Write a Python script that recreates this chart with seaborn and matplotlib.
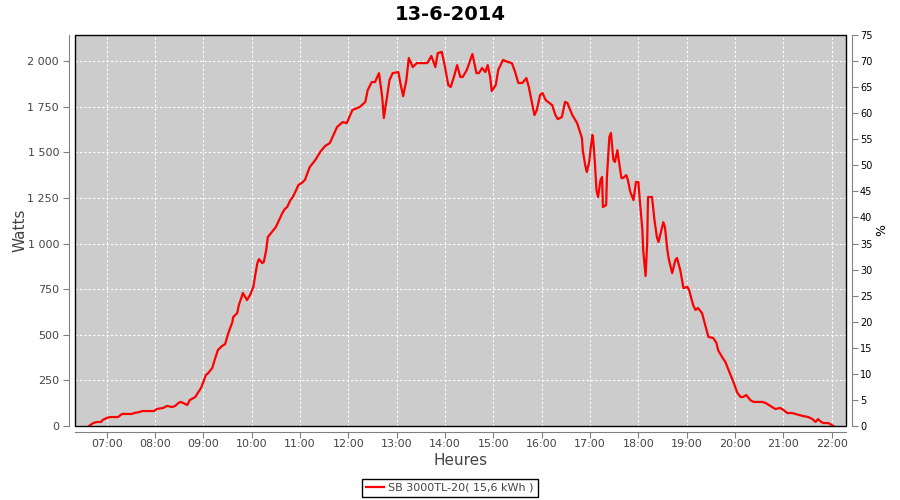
import matplotlib
matplotlib.use('Agg')
import matplotlib.pyplot as plt
import matplotlib.dates as mdates
from matplotlib.ticker import FuncFormatter, MultipleLocator
from matplotlib.patches import Rectangle
import seaborn as sns
import pandas as pd

day = '2014-06-13'
title = '13-6-2014'
series_name = 'SB 3000TL-20( 15,6 kWh )'

# power readings of the inverter (time of day, watts)
times = [
    '06:38', '06:43', '06:48', '06:53', '06:55', '07:00', '07:04', '07:14', '07:19', '07:31',
    '07:34', '07:41', '07:44', '07:59', '08:02', '08:10', '08:15', '08:21', '08:25', '08:29',
    '08:32', '08:35', '08:40', '08:43', '08:50', '08:53', '08:57', '09:00', '09:03', '09:06',
    '09:11', '09:14', '09:18', '09:23', '09:27', '09:31', '09:36', '09:37', '09:42', '09:44',
    '09:47', '09:49', '09:52', '09:54', '09:58', '10:02', '10:04', '10:07', '10:09', '10:13',
    '10:15', '10:18', '10:20', '10:25', '10:30', '10:34', '10:38', '10:41', '10:44', '10:48',
    '10:51', '10:54', '10:58', '11:02', '11:06', '11:12', '11:19', '11:25', '11:31', '11:37',
    '11:46', '11:53', '11:58', '12:05', '12:14', '12:21', '12:24', '12:29', '12:33', '12:38',
    '12:42', '12:44', '12:48', '12:51', '12:55', '13:02', '13:05', '13:08', '13:12', '13:15',
    '13:20', '13:25', '13:38', '13:43', '13:48', '13:51', '13:56', '14:00', '14:04', '14:07',
    '14:11', '14:15', '14:19', '14:22', '14:27', '14:34', '14:39', '14:42', '14:46', '14:50',
    '14:53', '14:56', '14:58', '15:03', '15:06', '15:12', '15:18', '15:23', '15:27', '15:31',
    '15:36', '15:41', '15:44', '15:48', '15:51', '15:54', '15:58', '16:01', '16:05', '16:13',
    '16:17', '16:20', '16:25', '16:29', '16:32', '16:38', '16:44', '16:46', '16:50', '16:51',
    '16:54', '16:56', '16:59', '17:01', '17:03', '17:04', '17:06', '17:08', '17:10', '17:13',
    '17:15', '17:16', '17:20', '17:21', '17:24', '17:26', '17:29', '17:31', '17:34', '17:36',
    '17:39', '17:41', '17:45', '17:47', '17:50', '17:54', '17:57', '18:00', '18:02', '18:05',
    '18:06', '18:09', '18:11', '18:12', '18:17', '18:20', '18:23', '18:25', '18:30', '18:31',
    '18:33', '18:36', '18:38', '18:42', '18:46', '18:48', '18:52', '18:56', '19:01', '19:03',
    '19:08', '19:11', '19:14', '19:19', '19:23', '19:27', '19:33', '19:37', '19:39', '19:44',
    '19:48', '19:52', '19:58', '20:03', '20:07', '20:10', '20:14', '20:19', '20:23', '20:34',
    '20:38', '20:44', '20:50', '20:56', '21:00', '21:05', '21:11', '21:15', '21:24', '21:31',
    '21:36', '21:40', '21:43', '21:47', '21:50', '21:56', '22:00', '22:02',
]
watts = [
    0, 16, 22, 22, 33, 44, 49, 49, 66, 66,
    71, 77, 82, 82, 93, 99, 110, 104, 110, 126,
    132, 126, 115, 142, 159, 181, 208, 241, 279, 290,
    318, 362, 416, 438, 449, 510, 570, 597, 619, 663,
    701, 729, 707, 690, 718, 762, 817, 893, 915, 893,
    899, 964, 1036, 1063, 1091, 1129, 1167, 1189, 1200, 1238,
    1255, 1282, 1321, 1332, 1348, 1419, 1458, 1502, 1534, 1551,
    1639, 1666, 1660, 1732, 1748, 1776, 1841, 1885, 1885, 1934,
    1803, 1688, 1803, 1896, 1934, 1940, 1869, 1808, 1896, 2017,
    1967, 1989, 1989, 2028, 1967, 2044, 2050, 1967, 1869, 1858,
    1913, 1978, 1913, 1913, 1951, 2039, 1934, 1934, 1962, 1940,
    1978, 1913, 1836, 1869, 1951, 2006, 1995, 1989, 1940, 1880,
    1880, 1907, 1858, 1770, 1704, 1732, 1814, 1825, 1786, 1759,
    1704, 1682, 1693, 1776, 1770, 1704, 1660, 1633, 1578, 1512,
    1430, 1392, 1447, 1529, 1595, 1567, 1447, 1293, 1255, 1348,
    1365, 1200, 1211, 1365, 1584, 1606, 1458, 1447, 1512, 1447,
    1359, 1359, 1375, 1348, 1282, 1238, 1337, 1337, 1228, 1074,
    964, 822, 1008, 1255, 1255, 1129, 1036, 1008, 1101, 1117,
    1091, 964, 910, 838, 910, 921, 855, 756, 762, 745,
    663, 636, 647, 619, 553, 488, 482, 455, 416, 378,
    351, 307, 241, 181, 159, 159, 170, 142, 132, 132,
    126, 110, 93, 99, 88, 71, 71, 66, 55, 49,
    38, 22, 38, 22, 16, 16, 5, 0,
]

df = pd.DataFrame({'heure': pd.to_datetime([day + ' ' + t for t in times]), 'watts': watts})

label_color = '#444444'
axis_color = '#808080'

fig = plt.figure(figsize=(9, 5), dpi=100)
ax = fig.add_axes([75 / 900, 74 / 500, 771 / 900, 391 / 500])
ax.set_facecolor('#cccccc')

sns.lineplot(data=df, x='heure', y='watts', ax=ax, color='red', linewidth=1.6, label=series_name)

ax.set_xlim(pd.Timestamp(day + ' 06:20:36'), pd.Timestamp(day + ' 22:17:48'))
ax.set_ylim(0, 2143)
ax.yaxis.set_major_locator(MultipleLocator(250))
ax.yaxis.set_major_formatter(FuncFormatter(lambda v, p: f'{int(v):,}'.replace(',', ' ')))
ax.xaxis.set_major_locator(mdates.HourLocator())
ax.xaxis.set_major_formatter(mdates.DateFormatter('%H:%M'))
ax.grid(True, color='white', linestyle=(0, (2, 2)), linewidth=0.8)

for s in ['top', 'right']:
    ax.spines[s].set_visible(False)
for s in ['left', 'bottom']:
    ax.spines[s].set_position(('outward', 4))
    ax.spines[s].set_color(axis_color)
ax.tick_params(color=axis_color, labelcolor=label_color, labelsize=8, length=4)
ax.tick_params(axis='x', pad=1.5)
ax.set_xlabel('Heures', fontsize=11, color=label_color)
ax.set_ylabel('Watts', fontsize=11, color=label_color)
ax.xaxis.set_label_coords(0.5, -0.068)
ax.yaxis.set_label_coords(-0.062, 0.5)

# plot outline
ax.add_patch(Rectangle((0, 0), 1, 1, transform=ax.transAxes, fill=False,
                       edgecolor='black', linewidth=1, zorder=5, clip_on=False))

# percentage axis on the right
ax2 = ax.twinx()
ax2.set_ylim(0, 75)
ax2.yaxis.set_major_locator(MultipleLocator(5))
for s in ['top', 'left', 'bottom']:
    ax2.spines[s].set_visible(False)
ax2.spines['right'].set_position(('outward', 4))
ax2.spines['right'].set_color(axis_color)
ax2.tick_params(color=axis_color, labelcolor='black', labelsize=7, length=4, pad=2)
ax2.set_ylabel('%', fontsize=9, color='black', labelpad=2)

fig.text(0.5, 1 - 14 / 500, title, ha='center', va='center', fontsize=14, fontweight='bold')

handles, labels = ax.get_legend_handles_labels()
ax.get_legend().remove()
leg = fig.legend(handles, labels, loc='center', bbox_to_anchor=(0.5, 1 - 488 / 500),
                 fontsize=8, frameon=True, fancybox=False, edgecolor='black',
                 framealpha=1, handlelength=1.6, handletextpad=0.4, borderpad=0.35)
leg.get_frame().set_linewidth(1)
for t in leg.get_texts():
    t.set_color(label_color)

fig.savefig('out.png', dpi=100)
